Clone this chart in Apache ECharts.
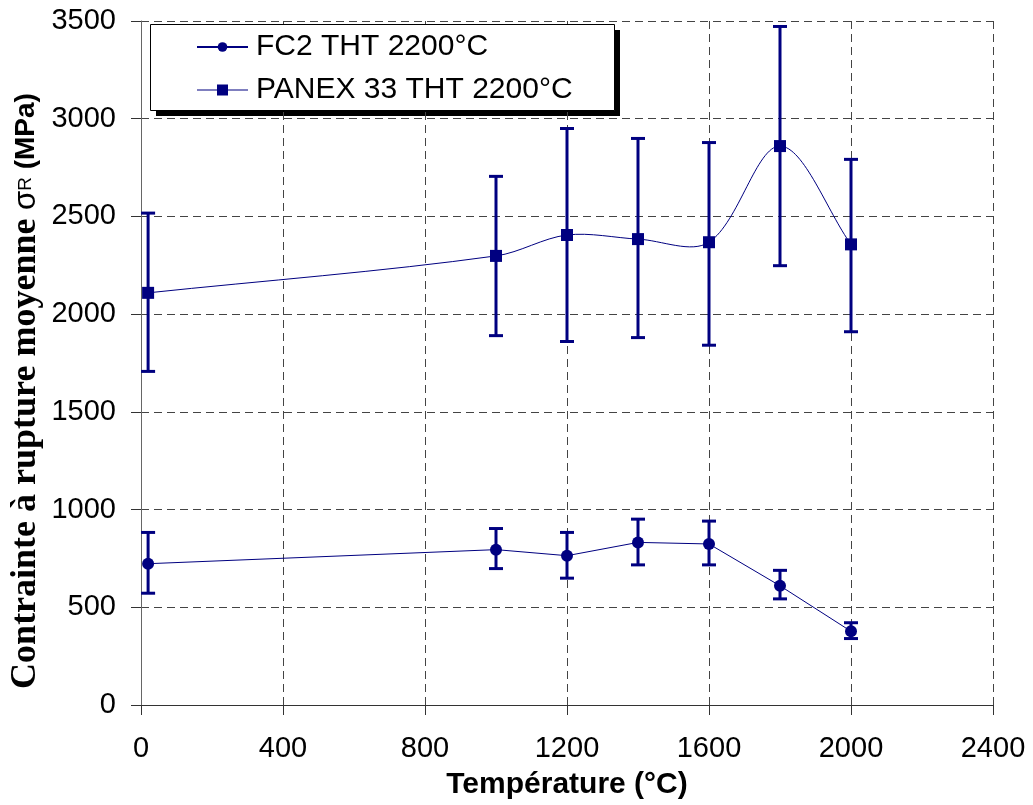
<!DOCTYPE html>
<html>
<head>
<meta charset="utf-8">
<script src="https://cdn.jsdelivr.net/npm/echarts@6/dist/echarts.min.js"></script>
<style>html,body{margin:0;padding:0;background:#fff}#c{width:1033px;height:805px}</style>
</head>
<body>
<div id="c"></div>
<script>
const temps = [20, 1000, 1200, 1400, 1600, 1800, 2000];
const fc2Mean = [723, 795, 764, 832, 824, 610, 377];
const fc2Low = [572, 698, 649, 717, 717, 543, 340];
const fc2High = [883, 903, 883, 951, 941, 689, 421];
const panexMean = [2109, 2298, 2405, 2384, 2368, 2860, 2357];
const panexLow = [1707, 1890, 1860, 1880, 1841, 2248, 1910];
const panexHigh = [2517, 2705, 2950, 2899, 2878, 3472, 2792];
const xTicks = [0, 400, 800, 1200, 1600, 2000, 2400];
const yTicks = [0, 500, 1000, 1500, 2000, 2500, 3000, 3500];
const seriesNames = ['FC2 THT 2200°C', 'PANEX 33 THT 2200°C'];

const NAVY = '#000080';
const SANS = '"Liberation Sans", Arial, sans-serif';
const SERIF = '"Liberation Serif", "Times New Roman", serif';

function errData(low, high) {
  return temps.map((t, i) => [t, low[i], high[i]]);
}
function errRender(params, api) {
  const x = api.value(0);
  const lo = api.coord([x, api.value(1)]);
  const hi = api.coord([x, api.value(2)]);
  const hw = 7;
  const st = { stroke: NAVY, lineWidth: 3 };
  return {
    type: 'group',
    children: [
      { type: 'line', shape: { x1: lo[0], y1: lo[1], x2: hi[0], y2: hi[1] }, style: st },
      { type: 'line', shape: { x1: lo[0] - hw, y1: lo[1], x2: lo[0] + hw, y2: lo[1] }, style: st },
      { type: 'line', shape: { x1: hi[0] - hw, y1: hi[1], x2: hi[0] + hw, y2: hi[1] }, style: st }
    ]
  };
}

// Excel-style smoothed line (Catmull-Rom-like, segment-length weighted), drawn through the axis scales
function smoothRender(params, api) {
  const i = params.dataIndex;
  const n = temps.length;
  if (i >= n - 1) return null;
  const P = k => api.coord([temps[Math.max(0, Math.min(n - 1, k))], panexMean[Math.max(0, Math.min(n - 1, k))]]);
  const s = 1 / 3;
  function tangentCps(k) {
    const p = P(k), pPrev = P(k - 1), pNext = P(k + 1);
    const tx = pNext[0] - pPrev[0], ty = pNext[1] - pPrev[1];
    const lp = Math.hypot(p[0] - pPrev[0], p[1] - pPrev[1]);
    const ln = Math.hypot(pNext[0] - p[0], pNext[1] - p[1]);
    const sum = lp + ln || 1;
    return {
      prev: [p[0] - tx * s * lp / sum, p[1] - ty * s * lp / sum],
      next: [p[0] + tx * s * ln / sum, p[1] + ty * s * ln / sum]
    };
  }
  const a = P(i), b = P(i + 1);
  const ca = tangentCps(i).next, cb = tangentCps(i + 1).prev;
  return {
    type: 'bezierCurve',
    shape: { x1: a[0], y1: a[1], cpx1: ca[0], cpy1: ca[1], cpx2: cb[0], cpy2: cb[1], x2: b[0], y2: b[1] },
    style: { stroke: NAVY, lineWidth: 1, fill: null }
  };
}

const chart = echarts.init(document.getElementById('c'), null, { renderer: 'canvas' });
const gridLine = { show: true, lineStyle: { color: '#444', type: [8, 5], width: 1 } };
chart.setOption({
  backgroundColor: '#fff',
  animation: false,
  grid: { left: 141, right: 40, top: 21, bottom: 99, containLabel: false },
  xAxis: {
    type: 'value', min: xTicks[0], max: xTicks[xTicks.length - 1], interval: 400,
    axisLine: { show: true, onZero: false, lineStyle: { color: '#333', width: 1 } },
    axisTick: { show: true, inside: false, length: 10, lineStyle: { color: '#333' } },
    axisLabel: { color: '#000', fontFamily: SANS, fontSize: 29, margin: 29, formatter: v => String(v) },
    splitLine: gridLine,
    name: 'Température (°C)', nameLocation: 'middle', nameGap: 65,
    nameTextStyle: { color: '#000', fontFamily: SANS, fontSize: 30, fontWeight: 'bold' }
  },
  yAxis: {
    type: 'value', min: yTicks[0], max: yTicks[yTicks.length - 1], interval: 500,
    axisLine: { show: true, onZero: false, lineStyle: { color: '#666', width: 1 } },
    axisTick: { show: true, inside: false, length: 10, lineStyle: { color: '#333' } },
    axisLabel: { color: '#000', fontFamily: SANS, fontSize: 29, margin: 25, formatter: v => String(v) },
    splitLine: gridLine
  },
  legend: {
    orient: 'vertical', left: 150, top: 24,
    padding: [8, 42, 9, 46],
    itemWidth: 51, itemHeight: 12, itemGap: 13,
    textStyle: { color: '#000', fontFamily: SANS, fontSize: 30, lineHeight: 29, padding: [0, 0, 0, 3] },
    data: [
      { name: seriesNames[0] },
      {
        name: seriesNames[1],
        icon: 'path://M0,5.5L51,5.5L51,6.5L0,6.5ZM20,0.5L31,0.5L31,11.5L20,11.5Z',
        itemStyle: { color: NAVY }
      }
    ]
  },
  graphic: [
    { type: 'rect', z: 0, shape: { x: 156, y: 30, width: 464, height: 86 }, style: { fill: '#000' }, silent: true },
    { type: 'rect', z: 1, shape: { x: 150.5, y: 24.5, width: 464, height: 86 }, style: { fill: '#fff', stroke: '#000', lineWidth: 1 }, silent: true },
    {
      type: 'text', x: 26, y: 391, rotation: Math.PI / 2,
      style: {
        text: '{t|Contrainte à rupture moyenne}{s| σ}{r|R}{m| (MPa)}',
        align: 'center', verticalAlign: 'middle',
        rich: {
          t: { fontFamily: SERIF, fontWeight: 'bold', fontSize: 36, fill: '#000' },
          s: { fontFamily: SANS, fontSize: 31, fill: '#000' },
          r: { fontFamily: SANS, fontSize: 19, fill: '#000' },
          m: { fontFamily: SANS, fontWeight: 'bold', fontSize: 28, fill: '#000' }
        }
      }
    }
  ],
  series: [
    {
      name: seriesNames[0], type: 'line',
      data: temps.map((t, i) => [t, fc2Mean[i]]),
      symbol: 'circle', symbolSize: 12,
      lineStyle: { color: NAVY, width: 1 }, itemStyle: { color: NAVY }, z: 3
    },
    {
      name: seriesNames[1], type: 'line',
      data: temps.map((t, i) => [t, panexMean[i]]),
      symbol: 'rect', symbolSize: 12,
      lineStyle: { color: NAVY, width: 0 }, itemStyle: { color: NAVY }, z: 4
    },
    { type: 'custom', renderItem: smoothRender, data: temps.map((t, i) => [t, panexMean[i]]), z: 3, silent: true },
    { type: 'custom', renderItem: errRender, data: errData(fc2Low, fc2High), z: 2, silent: true },
    { type: 'custom', renderItem: errRender, data: errData(panexLow, panexHigh), z: 2, silent: true }
  ]
});
</script>
</body>
</html>
